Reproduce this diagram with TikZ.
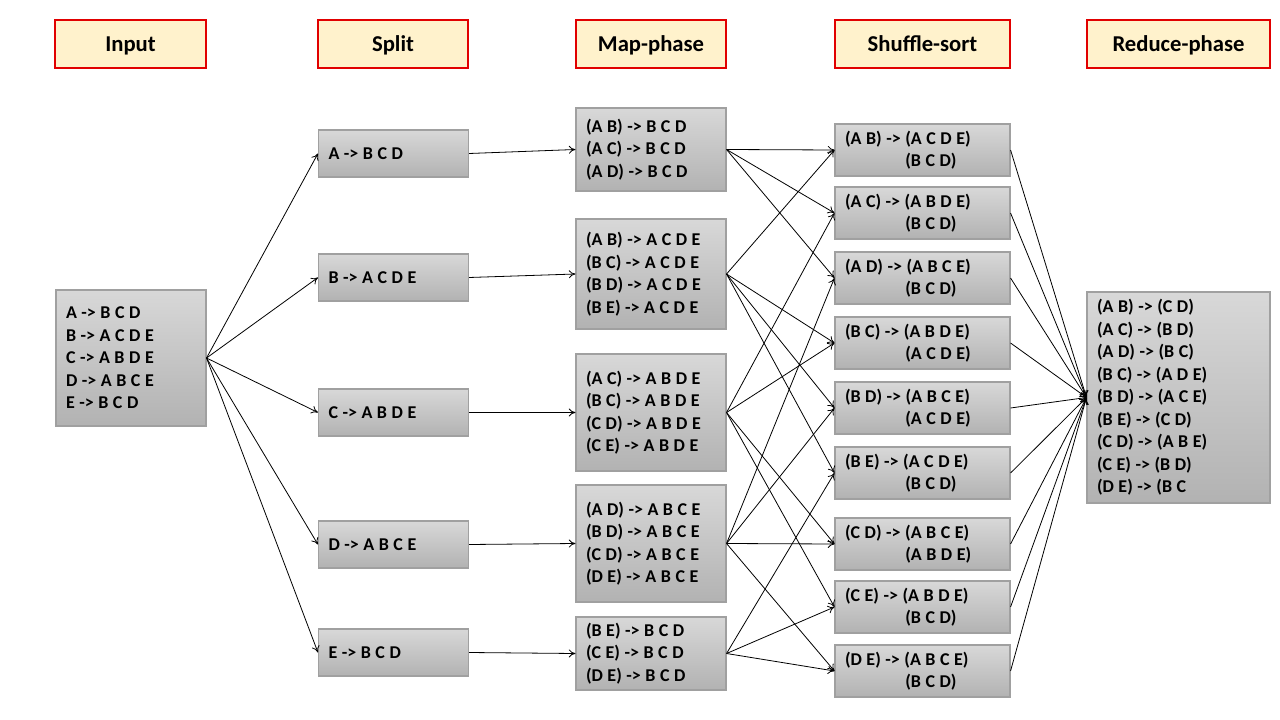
\documentclass[tikz,border=0pt]{standalone}
\usepackage{fontspec}
\setmainfont{Carlito}
\usepackage{tikz}
\usetikzlibrary{arrows.meta}

\definecolor{headfill}{RGB}{255,242,204}
\definecolor{headline}{RGB}{225,0,0}
\definecolor{boxline}{RGB}{160,160,160}
\definecolor{boxtop}{RGB}{216,216,216}
\definecolor{boxbot}{RGB}{178,178,178}

\newcommand{\boxfont}{\fontsize{13.5}{16.9}\selectfont\bfseries}
\newcommand{\tight}{\spaceskip=3.4pt\relax}

\tikzset{
  head/.style={draw=headline, line width=2.2pt, fill=headfill, minimum height=36pt,
    text depth=0pt, font=\fontsize{17}{20}\selectfont\bfseries},
  cell/.style={draw=boxline, line width=0.8pt, top color=boxtop, bottom color=boxbot,
    inner xsep=7.5pt, align=left, font=\boxfont, execute at begin node=\tight},
  narrow/.style={cell, text width=97.5pt},
  wide/.style={cell, text width=116.25pt},
  arr/.style={-{To[length=5pt,width=6pt]}, line width=0.6pt},
}
\newcommand{\pad}{\phantom{(A B) -> }}

\begin{document}
\begin{tikzpicture}[x=0.75pt, y=-0.75pt]
        \useasboundingbox (0,0) rectangle (1280,720);
        % headers
        \node[head, minimum width=113.25pt] (hInput) at (130.5, 44) {Input};
        \node[head, minimum width=112.5pt] (hSplit) at (393, 44) {Split};
        \node[head, minimum width=112.5pt] (hMap) at (651, 44) {Map-phase};
        \node[head, minimum width=131.25pt] (hShuffle) at (922.5, 44) {Shuffle-sort};
        \node[head, minimum width=137.25pt] (hReduce) at (1178.5, 44) {Reduce-phase};
        % input
        \node[narrow, minimum height=102pt] (input) at (131, 358)
          {A -> B C D\\B -> A C D E\\C -> A B D E\\D -> A B C E\\E -> B C D};
        % split
        \node[narrow, minimum height=35.25pt] (sA) at (393.5, 153.5) {A -> B C D};
        \node[narrow, minimum height=35.25pt] (sB) at (393.5, 277.5) {B -> A C D E};
        \node[narrow, minimum height=35.25pt] (sC) at (393.5, 412.5) {C -> A B D E};
        \node[narrow, minimum height=35.25pt] (sD) at (393.5, 544.5) {D -> A B C E};
        \node[narrow, minimum height=35.25pt] (sE) at (393.5, 652.5) {E -> B C D};
        % map
        \node[narrow, minimum height=62.25pt] (mA) at (651, 149.5)
          {(A B) -> B C D\\(A C) -> B C D\\(A D) -> B C D};
        \node[narrow, minimum height=82.5pt] (mB) at (651, 274)
          {(A B) -> A C D E\\(B C) -> A C D E\\(B D) -> A C D E\\(B E) -> A C D E};
        \node[narrow, minimum height=87.75pt] (mC) at (651, 412.5)
          {(A C) -> A B D E\\(B C) -> A B D E\\(C D) -> A B D E\\(C E) -> A B D E};
        \node[narrow, minimum height=87.75pt] (mD) at (651, 543.5)
          {(A D) -> A B C E\\(B D) -> A B C E\\(C D) -> A B C E\\(D E) -> A B C E};
        \node[narrow, minimum height=54.75pt] (mE) at (651, 653.5)
          {(B E) -> B C D\\(C E) -> B C D\\(D E) -> B C D};
        % shuffle
        \node[wide, minimum height=39pt] (AB) at (922.5, 150) {(A B) -> (A C D E)\\\pad(B C D)};
        \node[wide, minimum height=39pt] (AC) at (922.5, 213) {(A C) -> (A B D E)\\\pad(B C D)};
        \node[wide, minimum height=39pt] (AD) at (922.5, 278) {(A D) -> (A B C E)\\\pad(B C D)};
        \node[wide, minimum height=39pt] (BC) at (922.5, 343) {(B C) -> (A B D E)\\\pad(A C D E)};
        \node[wide, minimum height=39pt] (BD) at (922.5, 408) {(B D) -> (A B C E)\\\pad(A C D E)};
        \node[wide, minimum height=39pt] (BE) at (922.5, 473) {(B E) -> (A C D E)\\\pad(B C D)};
        \node[wide, minimum height=39pt] (CD) at (922.5, 544) {(C D) -> (A B C E)\\\pad(A B D E)};
        \node[wide, minimum height=39pt] (CE) at (922.5, 607) {(C E) -> (A B D E)\\\pad(B C D)};
        \node[wide, minimum height=39pt] (DE) at (922.5, 671) {(D E) -> (A B C E)\\\pad(B C D)};
        % reduce
        \node[cell, text width=122.25pt, minimum height=158.25pt] (red) at (1178.5, 397.5)
          {(A B) -> (C D)\\(A C) -> (B D)\\(A D) -> (B C)\\(B C) -> (A D E)\\(B D) -> (A C E)\\%
           (B E) -> (C D)\\(C D) -> (A B E)\\(C E) -> (B D)\\(D E) -> (B C};
        % connectors
        \foreach \s in {A,B,C,D,E} {
          \draw[arr] (input.east) -- (s\s.west);
          \draw[arr] (s\s.east) -- (m\s.west);
        }
        \foreach \t in {AB,AC,AD} \draw[arr] (mA.east) -- (\t.west);
        \foreach \t in {AB,BC,BD,BE} \draw[arr] (mB.east) -- (\t.west);
        \foreach \t in {AC,BC,CD,CE} \draw[arr] (mC.east) -- (\t.west);
        \foreach \t in {AD,BD,CD,DE} \draw[arr] (mD.east) -- (\t.west);
        \foreach \t in {BE,CE,DE} \draw[arr] (mE.east) -- (\t.west);
        \foreach \t in {AB,AC,AD,BC,BD,BE,CD,CE,DE} \draw[arr] (\t.east) -- (red.west);
      \end{tikzpicture}
\end{document}
